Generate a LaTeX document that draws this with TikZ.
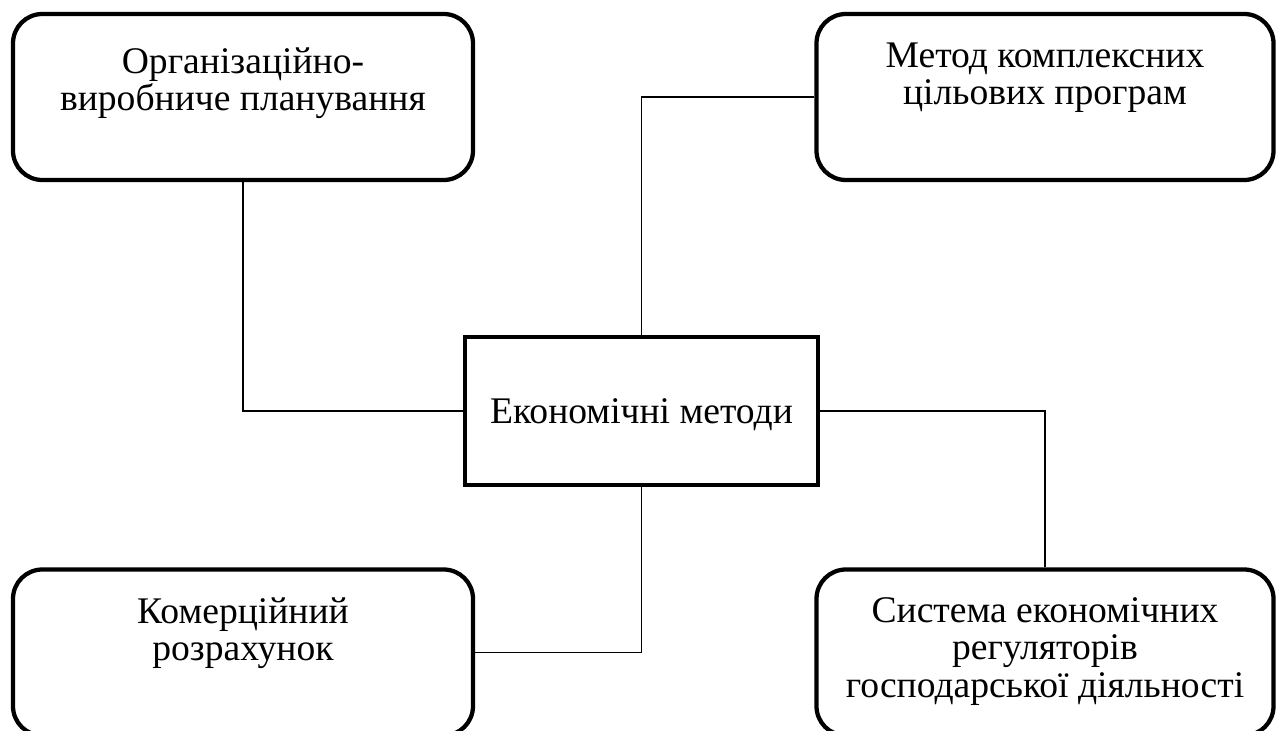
\documentclass[tikz,border=0pt]{standalone}
\usepackage{fontspec}
\setmainfont{Liberation Serif}
\usetikzlibrary{calc}

\tikzset{
  box/.style={draw, line width=3.2pt, rounded corners=22pt, minimum width=345pt, minimum height=124.5pt, inner sep=0pt},
  rbox/.style={box, minimum width=342.75pt},
  mainbox/.style={draw, line width=3.2pt, minimum width=264.75pt, minimum height=111pt, inner sep=0pt, text depth=0pt, font=\fontsize{28.2}{28.1}\selectfont},
  boxtext/.style={align=center, inner sep=0pt, anchor=base, font=\fontsize{28.2}{28.1}\selectfont},
  link/.style={line width=1pt}
}

\begin{document}
\begin{tikzpicture}[x=0.75pt, y=-0.75pt]
			%%%%% START %%%%%
			\useasboundingbox (0, 0) rectangle (1282, 731);
			
			\node[mainbox] (econ) at (641.5, 411) {Економічні методи};
			
			\node[box] (plan) at (243, 97) {};
			\node[boxtext] (plantext) at (243, 110.5) {Організаційно-\\виробниче планування};
			
			\node[rbox] (prog) at (1045, 97) {};
			\node[boxtext] (progtext) at (1045, 105) {Метод комплексних\\цільових програм};
			
			\node[box] (calc) at (243, 652.5) {};
			\node[boxtext] (calctext) at (243, 660.5) {Комерційний\\розрахунок};
			
			\node[rbox] (regs) at (1045, 652.5) {};
			\node[boxtext] (regstext) at (1045, 697) {Система економічних\\регуляторів\\господарської діяльності};
			
			\draw[link] (plan.south) |- (econ.west);
			\draw[link] (econ.north) |- (prog.west);
			\draw[link] (econ.east) -| (regs.north);
			\draw[link] (econ.south) |- (calc.east);
			
			%%%%% END %%%%%
\end{tikzpicture}
\end{document}
